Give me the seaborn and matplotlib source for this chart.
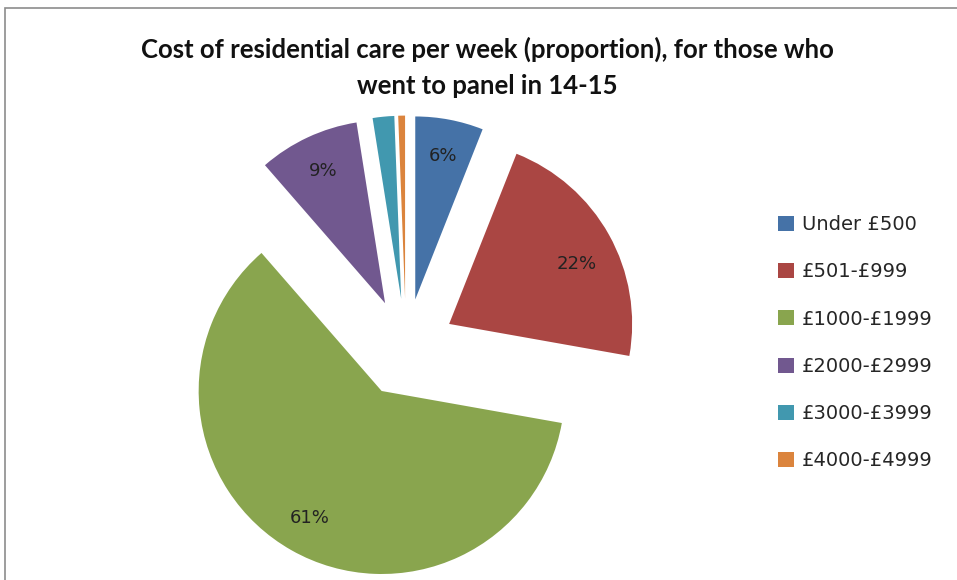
import matplotlib
matplotlib.use("Agg")
import matplotlib.pyplot as plt
import seaborn as sns
from matplotlib.patches import Rectangle

# Data
categories = ["Under £500", "£501-£999", "£1000-£1999", "£2000-£2999", "£3000-£3999", "£4000-£4999"]
shares = [6.0, 21.8, 60.8, 8.9, 1.9, 0.6]
colours = ["#4572A7", "#AA4643", "#89A54E", "#71588F", "#4198AF", "#DB843D"]

sns.set_theme(style="white")
plt.rcParams['font.family'] = ['DejaVu Sans']

fig = plt.figure(figsize=(9.57, 5.8), dpi=100)
ax = fig.add_axes([0, 0, 1, 1])

# Only label the bigger slices, like the original
def pct_label(p):
    return f"{p:.0f}%" if p >= 3 else ""

wedges, texts, autotexts = ax.pie(
    shares,
    colors=sns.color_palette(colours),
    startangle=90,
    counterclock=False,
    explode=[0.27] * len(shares),
    autopct=pct_label,
    pctdistance=0.8,
    textprops={'fontsize': 13, 'color': '#222222'},
    wedgeprops={'linewidth': 0},
)
# red label sits a bit lower in the original
autotexts[1].set_position((autotexts[1].get_position()[0], autotexts[1].get_position()[1] - 0.06))

# pie radius = 183 px, centre at (406, 348) px from top-left
ax.set_xlim(-406 / 183, (957 - 406) / 183)
ax.set_ylim(-232 / 183, (580 - 232) / 183)
ax.set_aspect('auto')
ax.axis('off')

fig.text(0.509, 0.884, "Cost of residential care per week (proportion), for those who\nwent to panel in 14-15",
         ha='center', va='center', fontsize=18.5, fontweight='bold',
         family=['Lato', 'DejaVu Sans'], linespacing=1.62, color='#111111')

ax.legend(wedges, categories, loc='upper left', bbox_to_anchor=(0.795, 0.659),
          bbox_transform=fig.transFigure, frameon=False, fontsize=14,
          handlelength=0.8, handleheight=0.8, handletextpad=0.4, labelspacing=1.45)

# chart frame
fig.patches.append(Rectangle((5 / 957, -0.1), 1.1, (580 - 8) / 580 + 0.1, transform=fig.transFigure,
                             fill=False, edgecolor='#8c8c8c', linewidth=1.2))

fig.savefig("out.png", dpi=100)
